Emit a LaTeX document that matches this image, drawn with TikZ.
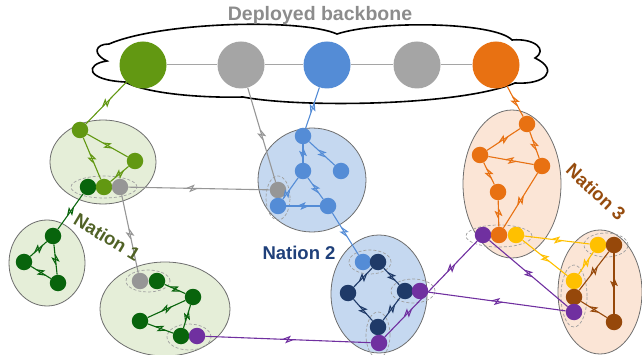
\documentclass[tikz,border=0pt]{standalone}
\usepackage{fontspec}
\setmainfont{Liberation Sans}
\usetikzlibrary{decorations.markings}

\definecolor{lgreen}{RGB}{98,152,18}
\definecolor{dgreen}{RGB}{8,100,12}
\definecolor{nodegray}{RGB}{150,150,150}
\definecolor{hubgray}{RGB}{165,165,165}
\definecolor{mblue}{RGB}{84,140,214}
\definecolor{navy}{RGB}{31,58,104}
\definecolor{orng}{RGB}{232,113,18}
\definecolor{yell}{RGB}{255,192,0}
\definecolor{brwn}{RGB}{150,72,10}
\definecolor{purp}{RGB}{112,48,160}
\definecolor{fgreen}{RGB}{229,238,216}
\definecolor{fblue}{RGB}{197,216,240}
\definecolor{forange}{RGB}{251,229,214}
\definecolor{rimgray}{RGB}{110,110,110}
\definecolor{dashgray}{RGB}{160,160,160}
\definecolor{titlegray}{RGB}{140,140,140}
\definecolor{txtgreen}{RGB}{80,98,38}
\definecolor{txtblue}{RGB}{31,64,122}
\definecolor{txtbrown}{RGB}{150,76,14}

\begin{document}
\begin{tikzpicture}[x=1pt,y=-1pt,
  dot/.style={circle, inner sep=0pt, minimum size=16.5pt, fill=#1},
  hub/.style={circle, inner sep=0pt, minimum size=47pt, fill=#1},
  region/.style={draw=rimgray, line width=0.8pt, fill=#1},
  pairing/.style={draw=dashgray, line width=0.7pt, dash pattern=on 3pt off 2pt},
  link/.style={color=#1, line width=1.1pt},
  bolt/.style={postaction={decorate, decoration={markings,
      mark=at position #1 with {\draw[line width=1.1pt, line join=miter]
        (-5pt,0pt) -- (1.5pt,2.8pt) -- (-1.5pt,-2.8pt) -- (5pt,0pt);}}}},
  bolt/.default=0.5,
  nationtext/.style={font=\bfseries\fontsize{18.5}{20}\selectfont, text=#1, inner sep=0pt},
]
\useasboundingbox (0,0) rectangle (642,355);

% backbone cloud
\draw[line width=1.6pt, fill=white]
  (109,44) .. controls (95,44) and (92,54) .. (107,61)
  .. controls (85,64) and (85,80) .. (125,82)
  .. controls (150,95) and (210,98) .. (243,97)
  .. controls (300,108) and (460,106) .. (515,83)
  .. controls (545,85) and (560,70) .. (535,58)
  .. controls (548,50) and (535,38) .. (512,40)
  .. controls (495,22) and (380,20) .. (337,34)
  .. controls (300,18) and (160,22) .. (109,44) -- cycle;
\node[font=\bfseries\fontsize{19.5}{21}\selectfont, text=titlegray] (ttl) at (320,15) {Deployed backbone};

% nation regions
\draw[region=fgreen] (103,162) ellipse [x radius=53pt, y radius=42pt];
\draw[region=fgreen] (47,263) ellipse [x radius=38pt, y radius=43pt];
\draw[region=fgreen] (165,309) ellipse [x radius=65pt, y radius=47pt];
\draw[region=fblue] (312,180) ellipse [x radius=54pt, y radius=52pt];
\draw[region=fblue] (379,294) ellipse [x radius=48pt, y radius=59pt];
\draw[region=forange] (512,184) ellipse [x radius=49pt, y radius=74pt];
\draw[region=forange] (600,292) ellipse [x radius=42pt, y radius=62pt];

% dashed outlines of co-located nodes
\draw[pairing] (104,187) ellipse [x radius=33pt, y radius=11pt];
\draw[pairing] (148,281) ellipse [x radius=22pt, y radius=11pt];
\draw[pairing] (189,337) ellipse [x radius=22pt, y radius=13pt];
\draw[pairing] (278,198) ellipse [x radius=12pt, y radius=22pt];
\draw[pairing] (370,262) ellipse [x radius=21pt, y radius=12pt];
\draw[pairing] (413,291) ellipse [x radius=22pt, y radius=12pt];
\draw[pairing] (378,335) ellipse [x radius=12pt, y radius=23pt];
\draw[pairing] (499,236) ellipse [x radius=33pt, y radius=11pt];
\draw[pairing] (606,245) ellipse [x radius=22pt, y radius=12pt];
\draw[pairing] (574,296) ellipse [x radius=13pt, y radius=31pt];

% backbone nodes
\node[hub=lgreen] (bb1) at (143,65) {};
\node[hub=hubgray] (bb2) at (241,65) {};
\node[hub=mblue] (bb3) at (327,65) {};
\node[hub=hubgray] (bb4) at (417,65) {};
\node[hub=orng] (bb5) at (496,65) {};
\draw[color=hubgray, line width=1pt] (bb1) -- (bb2) -- (bb3) -- (bb4) -- (bb5);

% nation 1
\node[dot=lgreen] (a1) at (80,130) {};
\node[dot=lgreen] (a2) at (135,161) {};
\node[dot=dgreen] (a3) at (88,187) {};
\node[dot=lgreen] (a4) at (104,187) {};
\node[dot=nodegray] (a5) at (120,187) {};
\node[dot=dgreen] (b1) at (53,236) {};
\node[dot=dgreen] (b2) at (24,262) {};
\node[dot=dgreen] (b3) at (58,283) {};
\node[dot=nodegray] (c1) at (140,281) {};
\node[dot=dgreen] (c2) at (157,281) {};
\node[dot=dgreen] (c3) at (193,297) {};
\node[dot=dgreen] (c4) at (140,321) {};
\node[dot=dgreen] (c5) at (181,336) {};
\node[dot=purp] (c6) at (197,336) {};

% nation 2
\node[dot=mblue] (p1) at (303,136) {};
\node[dot=mblue] (p2) at (303,171) {};
\node[dot=mblue] (p3) at (341,171) {};
\node[dot=nodegray] (p4) at (278,190) {};
\node[dot=mblue] (p5) at (278,206) {};
\node[dot=mblue] (p6) at (328,206) {};
\node[dot=mblue] (q1) at (363,262) {};
\node[dot=navy] (q2) at (378,262) {};
\node[dot=navy] (q3) at (348,293) {};
\node[dot=navy] (q4) at (405,291) {};
\node[dot=purp] (q5) at (420,291) {};
\node[dot=navy] (q6) at (378,327) {};
\node[dot=purp] (q7) at (379,343) {};

% nation 3
\node[dot=orng] (r1) at (527,124) {};
\node[dot=orng] (r2) at (480,155) {};
\node[dot=orng] (r3) at (542,166) {};
\node[dot=orng] (r4) at (498,192) {};
\node[dot=purp] (r5) at (483,235) {};
\node[dot=orng] (r6) at (499,235) {};
\node[dot=yell] (r7) at (516,235) {};
\node[dot=yell] (s1) at (598,245) {};
\node[dot=brwn] (s2) at (614,245) {};
\node[dot=yell] (s3) at (574,281) {};
\node[dot=brwn] (s4) at (574,297) {};
\node[dot=purp] (s5) at (574,312) {};
\node[dot=brwn] (s6) at (614,322) {};

% uplinks to the backbone
\draw[link=lgreen, bolt] (bb1) -- (a1);
\draw[link=nodegray, bolt] (bb2) -- (p4);
\draw[link=mblue, bolt] (bb3) -- (p1);
\draw[link=orng, bolt] (bb5) -- (r1);

% links inside nation 1
\draw[link=lgreen, bolt] (a1) -- (a2);
\draw[link=lgreen, bolt] (a1) -- (a4);
\draw[link=lgreen, bolt] (a2) -- (a4);
\draw[link=dgreen, bolt] (a3) -- (b1);
\draw[link=dgreen, bolt] (b1) -- (b2);
\draw[link=dgreen, bolt] (b1) -- (b3);
\draw[link=dgreen, bolt] (b2) -- (b3);
\draw[link=nodegray, bolt] (a5) -- (c1);
\draw[link=nodegray, bolt=0.45] (a5) -- (p4);
\draw[link=dgreen, bolt] (c2) -- (c3);
\draw[link=dgreen, bolt] (c3) -- (c5);
\draw[link=dgreen, bolt] (c4) -- (c3);
\draw[link=dgreen, bolt] (c4) -- (c5);

% links inside nation 2
\draw[link=mblue, bolt] (p1) -- (p2);
\draw[link=mblue, bolt] (p1) -- (p3);
\draw[link=mblue, bolt=0.75] (p2) -- (p5);
\draw[link=mblue, bolt] (p2) -- (p6);
\draw[link=mblue, bolt] (p5) -- (p6);
\draw[link=mblue, bolt=0.45] (p6) -- (q1);
\draw[link=navy, bolt] (q2) -- (q3);
\draw[link=navy, bolt] (q2) -- (q4);
\draw[link=navy, bolt] (q3) -- (q6);
\draw[link=navy, bolt] (q4) -- (q6);

% links inside nation 3
\draw[link=orng, bolt] (r1) -- (r2);
\draw[link=orng, bolt] (r1) -- (r3);
\draw[link=orng, bolt] (r2) -- (r3);
\draw[link=orng, bolt] (r2) -- (r4);
\draw[link=orng, bolt] (r4) -- (r6);
\draw[link=orng, bolt] (r3) -- (r6);
\draw[link=yell, bolt] (r7) -- (s1);
\draw[link=yell, bolt] (r7) -- (s3);
\draw[link=yell, bolt] (s1) -- (s3);
\draw[link=brwn, bolt] (s2) -- (s4);
\draw[link=brwn, bolt] (s2) -- (s6);
\draw[link=brwn, bolt] (s4) -- (s6);

% purple inter-nation links
\draw[link=purp, bolt] (c6) -- (q7);
\draw[link=purp, bolt=0.25, bolt=0.72] (q7) -- (r5);
\draw[link=purp, bolt] (q5) -- (s5);
\draw[link=purp, bolt] (r5) -- (s5);

% nation names
\node[nationtext=txtgreen, rotate=-31] (n1) at (107,237) {Nation 1};
\node[nationtext=txtblue] (n2) at (299,253) {Nation 2};
\node[nationtext=txtbrown, rotate=-43] (n3) at (596,192) {Nation 3};
\end{tikzpicture}
\end{document}
